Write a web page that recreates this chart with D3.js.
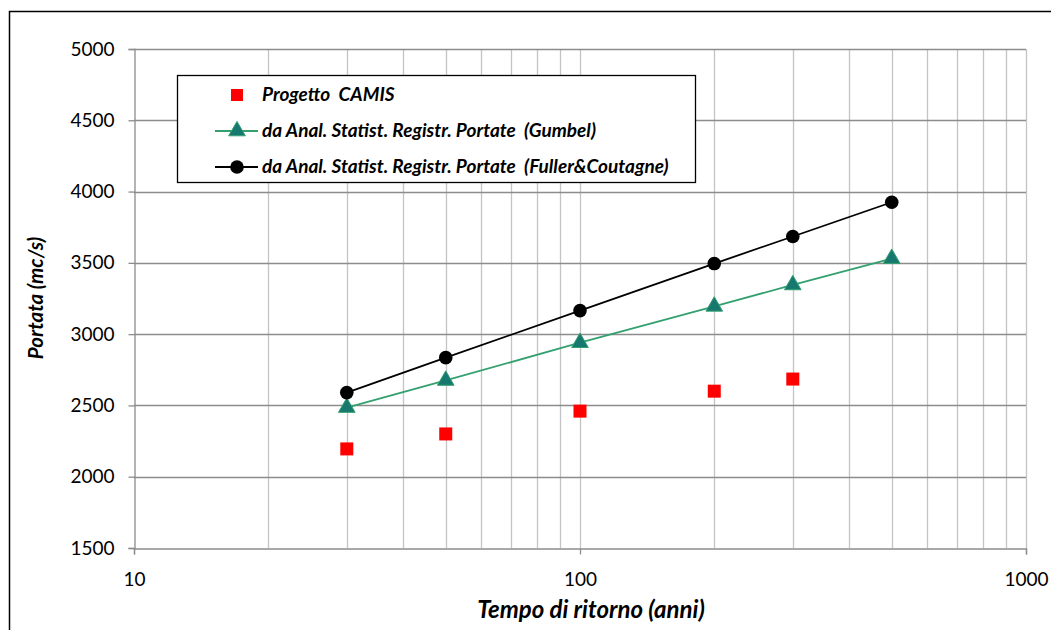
<!DOCTYPE html>
<html><head><meta charset="utf-8">
<script src="https://cdn.jsdelivr.net/npm/d3@7"></script>
<style>body{margin:0;background:#fff;} svg{display:block;font-family:Lato,"Open Sans",sans-serif;}</style>
</head><body>
<svg id="c" width="1051" height="630"></svg>
<script>
const years = [30, 50, 100, 200, 300, 500];
const camisYears = [30, 50, 100, 200, 300];
const camis = [2195, 2300, 2460, 2600, 2685];
const gumbel = [2485, 2675, 2940, 3195, 3345, 3530];
const fuller = [2590, 2835, 3165, 3495, 3685, 3925];
const yTicks = [1500, 2000, 2500, 3000, 3500, 4000, 4500, 5000];
const xTickLabels = [10, 100, 1000];
const legendLabels = ["Progetto  CAMIS", "da Anal. Statist. Registr. Portate  (Gumbel)", "da Anal. Statist. Registr. Portate  (Fuller&Coutagne)"];

const svg = d3.select("#c");
const L = 134, R = 1026, T = 49, B = 548;
const x = d3.scaleLog().domain([10, 1000]).range([L, R]);
const y = d3.scaleLinear().domain([1500, 5000]).range([B, T]);

// outer frame
svg.append("path").attr("d", "M9.5,630 V11.5 H1051").attr("fill", "none").attr("stroke", "#000").attr("stroke-width", 1.5);

// vertical minor grid
const minor = [];
for (let d = 10; d < 1000; d *= 10) for (let k = 2; k <= 10; k++) minor.push(d * k);
svg.append("g").selectAll("line").data(minor).join("line")
  .attr("x1", d => Math.round(x(d)) + 0.5).attr("x2", d => Math.round(x(d)) + 0.5)
  .attr("y1", T).attr("y2", B).attr("stroke", "#c4c4c4").attr("stroke-width", 1.3);

// horizontal grid
svg.append("g").selectAll("line").data(yTicks.slice(1)).join("line")
  .attr("x1", L).attr("x2", R).attr("y1", d => Math.round(y(d)) + 0.5).attr("y2", d => Math.round(y(d)) + 0.5)
  .attr("stroke", "#8c8c8c").attr("stroke-width", 1.3);

// axes
const yAxis = d3.axisLeft(y).tickValues(yTicks).tickSize(6).tickPadding(14).tickFormat(d3.format("d"));
const gy = svg.append("g").attr("transform", `translate(${L + 0.5},0)`).call(yAxis);
gy.attr("font-size", 19).attr("font-family", "Lato");
gy.select(".domain").attr("stroke", "#8c8c8c").attr("stroke-width", 1.3);
gy.selectAll(".tick line").attr("stroke", "#8c8c8c").attr("stroke-width", 1.3);
gy.selectAll("text").attr("fill", "#000");

const xAxis = d3.axisBottom(x).tickValues(xTickLabels).tickSize(6).tickPadding(18).tickFormat(d3.format("d"));
const gx = svg.append("g").attr("transform", `translate(0,${B + 0.5})`).call(xAxis);
gx.attr("font-size", 19).attr("font-family", "Lato");
gx.select(".domain").attr("stroke", "#8c8c8c").attr("stroke-width", 1.3);
gx.selectAll(".tick line").attr("stroke", "#8c8c8c").attr("stroke-width", 1.3);
gx.selectAll("text").attr("fill", "#000");

// axis titles
svg.append("text").attr("transform", `translate(43,298) rotate(-90)`).attr("text-anchor", "middle")
  .attr("font-size", 20.5).attr("font-weight", "bold").attr("font-style", "italic").text("Portata (mc/s)");
svg.append("text").attr("x", 591).attr("y", 618).attr("text-anchor", "middle")
  .attr("font-size", 24).attr("font-weight", "bold").attr("font-style", "italic").text("Tempo di ritorno (anni)");

// series
const greenLine = "#34a070", greenFill = "#16786e";
const line = d3.line().x(d => x(d[0])).y(d => y(d[1]));
svg.append("path").datum(years.map((d, i) => [d, gumbel[i]])).attr("d", line)
  .attr("fill", "none").attr("stroke", greenLine).attr("stroke-width", 1.8);
svg.append("path").datum(years.map((d, i) => [d, fuller[i]])).attr("d", line)
  .attr("fill", "none").attr("stroke", "#000").attr("stroke-width", 1.8);

const tri = d3.symbol().type(d3.symbolTriangle).size(120);
svg.append("g").selectAll("path").data(years.map((d, i) => [d, gumbel[i]])).join("path")
  .attr("d", tri).attr("transform", d => `translate(${x(d[0])},${y(d[1])})`)
  .attr("fill", greenFill).attr("stroke", greenLine).attr("stroke-width", 1);
svg.append("g").selectAll("circle").data(years.map((d, i) => [d, fuller[i]])).join("circle")
  .attr("cx", d => x(d[0])).attr("cy", d => y(d[1])).attr("r", 6.8).attr("fill", "#000");
svg.append("g").selectAll("rect").data(camisYears.map((d, i) => [d, camis[i]])).join("rect")
  .attr("x", d => x(d[0]) - 6.5).attr("y", d => y(d[1]) - 6.5).attr("width", 13).attr("height", 13).attr("fill", "#ff0000");

// legend
const lg = svg.append("g");
lg.append("rect").attr("x", 177.5).attr("y", 75.5).attr("width", 518).attr("height", 107)
  .attr("fill", "#fff").attr("stroke", "#000").attr("stroke-width", 1.3);
const ly = [95, 131, 167];
lg.append("rect").attr("x", 231).attr("y", ly[0] - 6).attr("width", 12).attr("height", 12).attr("fill", "#ff0000");
lg.append("line").attr("x1", 215).attr("x2", 258).attr("y1", ly[1]).attr("y2", ly[1]).attr("stroke", greenLine).attr("stroke-width", 1.8);
lg.append("path").attr("d", tri).attr("transform", `translate(237,${ly[1]})`).attr("fill", greenFill).attr("stroke", greenLine);
lg.append("line").attr("x1", 215).attr("x2", 258).attr("y1", ly[2]).attr("y2", ly[2]).attr("stroke", "#000").attr("stroke-width", 1.8);
lg.append("circle").attr("cx", 237).attr("cy", ly[2]).attr("r", 6.8).attr("fill", "#000");
lg.selectAll("text.l").data(legendLabels).join("text").attr("class", "l")
  .attr("x", 262).attr("y", (d, i) => ly[i] + 6).attr("font-size", 19)
  .attr("font-weight", "bold").attr("font-style", "italic").attr("xml:space", "preserve")
  .style("white-space", "pre").text(d => d);
</script>
</body></html>
